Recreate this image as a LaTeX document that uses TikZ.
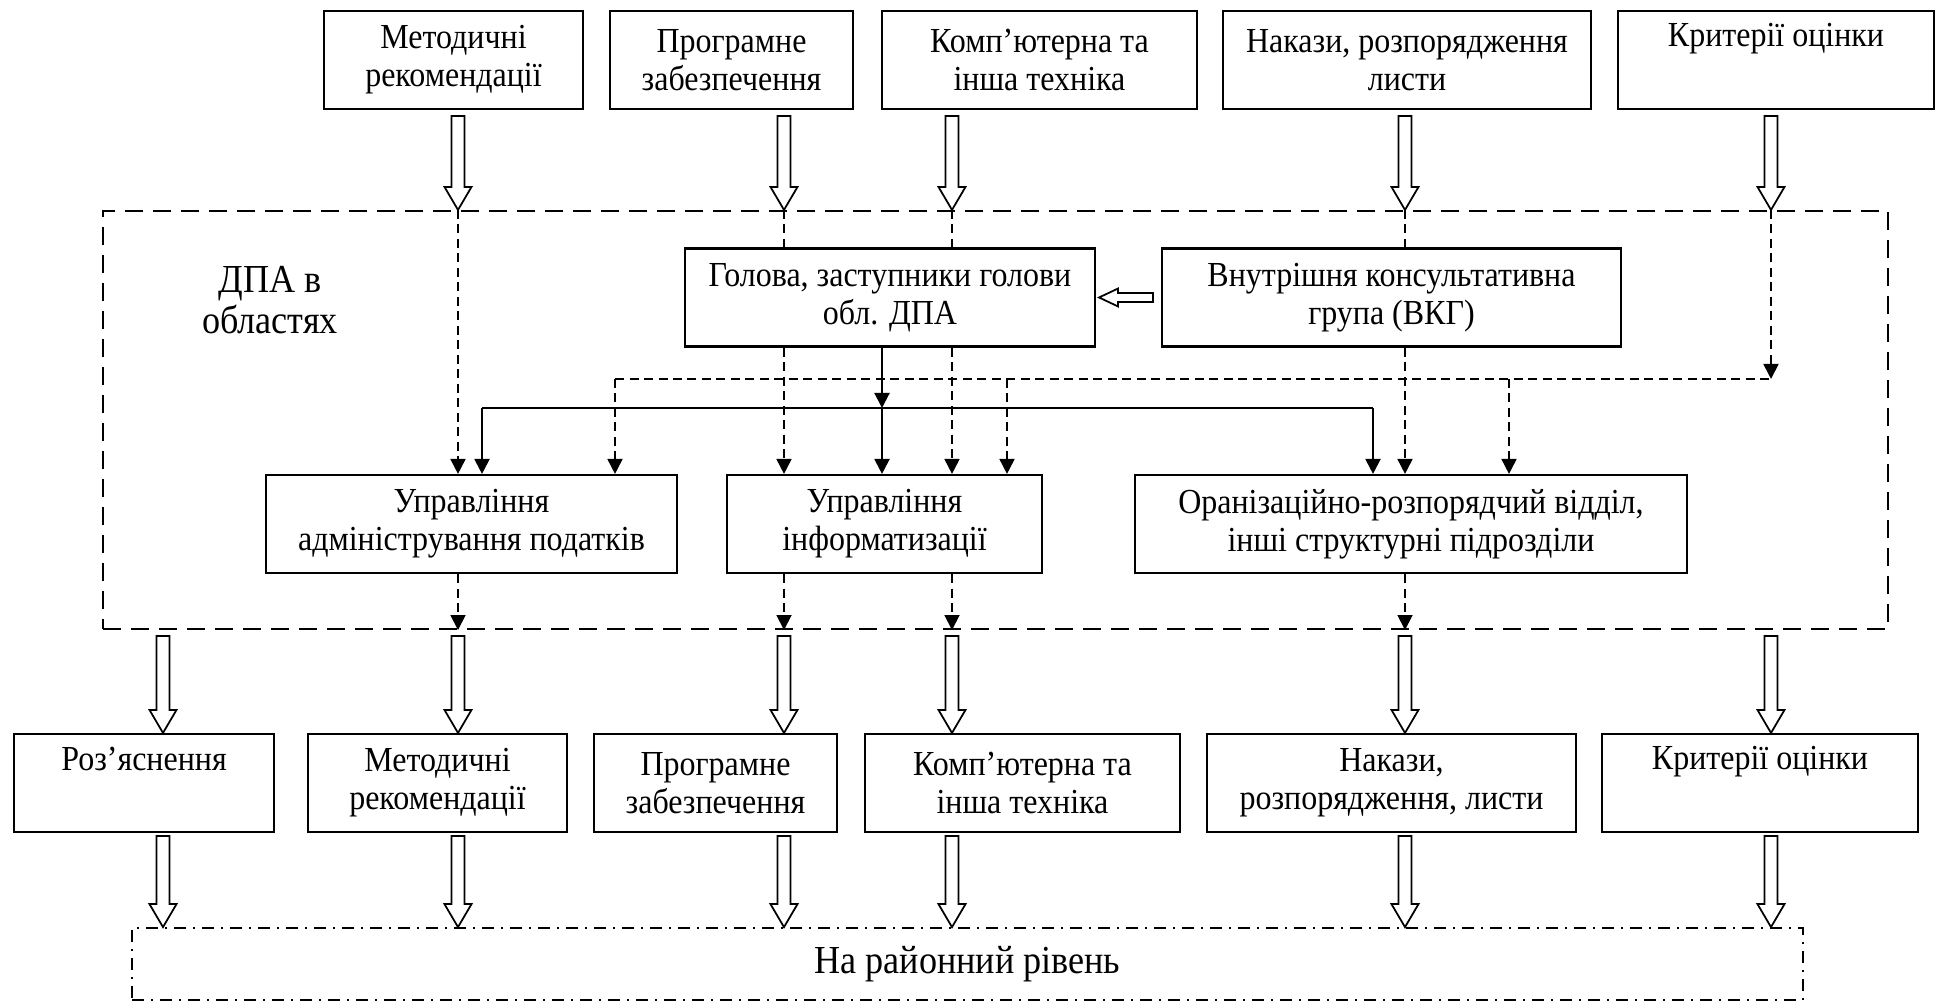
\documentclass[tikz,border=0pt]{standalone}
\usepackage{fontspec}
\setmainfont{Liberation Serif}[FakeStretch=0.91]
\usetikzlibrary{arrows.meta, calc}

\newcommand{\boxfont}{\fontsize{10}{10.8}\selectfont}
\newcommand{\bigfont}{\fontsize{11.3}{11.6}\selectfont}

% outlined block arrows (tail, tip)
\newcommand{\hollowdown}[2]{%
  \draw[line width=0.5pt, fill=white] let \p1=#1, \p2=#2 in
    (\x1-0.065cm,\y1) -- (\x1-0.065cm,\y2+0.23cm) -- (\x1-0.135cm,\y2+0.23cm)
    -- (\x1,\y2) -- (\x1+0.135cm,\y2+0.23cm) -- (\x1+0.065cm,\y2+0.23cm)
    -- (\x1+0.065cm,\y1) -- cycle;}
\newcommand{\hollowleft}[2]{%
  \draw[line width=0.5pt, fill=white] let \p1=#1, \p2=#2 in
    (\x1,\y1+0.045cm) -- (\x2+0.19cm,\y1+0.045cm) -- (\x2+0.19cm,\y1+0.09cm)
    -- (\x2,\y1) -- (\x2+0.19cm,\y1-0.09cm) -- (\x2+0.19cm,\y1-0.045cm)
    -- (\x1,\y1-0.045cm) -- cycle;}

\tikzset{
  box/.style={draw, line width=0.6pt, fill=white, align=center, inner sep=0pt,
    minimum height=0.98cm, font=\boxfont},
  frame/.style={draw, line width=0.6pt, dash pattern=on 0.18cm off 0.1cm},
  rayonbox/.style={draw, line width=0.5pt, dash pattern=on 0.12cm off 0.07cm on 0.02cm off 0.07cm,
    font=\bigfont},
  dline/.style={line width=0.5pt, dash pattern=on 0.09cm off 0.055cm},
  sline/.style={line width=0.6pt},
  tip/.style={-{Triangle[length=0.15cm, width=0.15cm]}},
}

\begin{document}
\begin{tikzpicture}
    \useasboundingbox (0,0) rectangle (19.39,10.02);

    % column positions
    \coordinate (cA) at (1.63,0);
    \coordinate (cB) at (4.58,0);
    \coordinate (cC) at (7.84,0);
    \coordinate (cD) at (9.52,0);
    \coordinate (cE) at (14.05,0);
    \coordinate (cF) at (17.71,0);

    % TOP ROW: INPUTS
    \node[box, minimum width=2.59cm] (topMet) at (4.535,9.42) {Методичні\\рекомендації};
    \node[box, minimum width=2.43cm] (topProg) at (7.315,9.42) {Програмне\\забезпечення};
    \node[box, minimum width=3.15cm] (topComp) at (10.395,9.42) {Комп’ютерна та\\інша техніка};
    \node[box, minimum width=3.68cm] (topNak) at (14.07,9.42) {Накази, розпорядження\\листи};
    \node[box, minimum width=3.16cm] (topKrit) at (17.76,9.42) {Критерії оцінки\\\strut};

    % DPA FRAME
    \node[frame, minimum width=17.85cm, minimum height=4.18cm] (dpa) at (9.955,5.82) {};
    \node[align=center, font=\bigfont] (dpaText) at (2.70,7.02) {ДПА в\\областях};

    \node[box, minimum width=4.10cm] (hol) at (8.90,7.045) {Голова, заступники голови\\обл. ДПА};
    \node[box, minimum width=4.59cm] (vkg) at (13.915,7.045) {Внутрішня консультативна\\група (ВКГ)};

    \node[box, minimum width=4.11cm] (adm) at (4.715,4.78) {Управління\\адміністрування податків};
    \node[box, minimum width=3.15cm] (inf) at (8.845,4.78) {Управління\\інформатизації};
    \node[box, minimum width=5.52cm] (org) at (14.11,4.78) {Оранізаційно-розпорядчий відділ,\\інші структурні підрозділи};

    % BOTTOM ROW: OUTPUTS
    \node[box, minimum width=2.60cm] (botRoz) at (1.44,2.19) {Роз’яснення\\\strut};
    \node[box, minimum width=2.59cm] (botMet) at (4.375,2.19) {Методичні\\рекомендації};
    \node[box, minimum width=2.43cm] (botProg) at (7.155,2.19) {Програмне\\забезпечення};
    \node[box, minimum width=3.15cm] (botComp) at (10.225,2.19) {Комп’ютерна та\\інша техніка};
    \node[box, minimum width=3.69cm] (botNak) at (13.915,2.19) {Накази,\\розпорядження, листи};
    \node[box, minimum width=3.16cm] (botKrit) at (17.60,2.19) {Критерії оцінки\\\strut};

    \node[rayonbox, minimum width=16.71cm, minimum height=0.72cm] (rayon) at (9.675,0.38) {На районний рівень};

    % hollow arrows into the frame
    \foreach \col/\src in {cB/topMet, cC/topProg, cD/topComp, cE/topNak, cF/topKrit} {
        \hollowdown{($(\col |- \src.south)+(0,-0.06)$)}{(\col |- dpa.north)}
    }

    % dashed lines from the inputs
    \draw[dline, tip] (cB |- dpa.north) -- (cB |- adm.north);
    \draw[dline] (cC |- dpa.north) -- (cC |- hol.north);
    \draw[dline] (cD |- dpa.north) -- (cD |- hol.north);
    \draw[dline, tip] (cC |- hol.south) -- (cC |- inf.north);
    \draw[dline, tip] (cD |- hol.south) -- (cD |- inf.north);
    \draw[dline] (cE |- dpa.north) -- (cE |- vkg.north);
    \draw[dline, tip] (cE |- vkg.south) -- (cE |- org.north);

    % dashed distribution line (criteria)
    \coordinate (dBus) at (6.15,6.23);
    \draw[dline, tip] (cF |- dpa.north) -- (cF |- dBus);
    \draw[dline] (dBus) -- (cF |- dBus);
    \draw[dline, tip] (dBus) -- (dBus |- adm.north);
    \draw[dline, tip] (10.07,6.23) -- (10.07,0 |- inf.north);
    \draw[dline, tip] (15.09,6.23) -- (15.09,0 |- org.north);

    % solid distribution line (management)
    \coordinate (sBus) at (8.82,5.94);
    \draw[sline, tip] (sBus |- hol.south) -- (sBus);
    \draw[sline] (4.82,5.94) -- (13.73,5.94);
    \draw[sline, tip] (4.82,5.94) -- (4.82,0 |- adm.north);
    \draw[sline, tip] (sBus) -- (sBus |- inf.north);
    \draw[sline, tip] (13.73,5.94) -- (13.73,0 |- org.north);

    % VKG advises the head
    \hollowleft{($(vkg.west)+(-0.08,0)$)}{($(hol.east)+(0.03,0)$)}

    % dashed lines out of the departments
    \draw[dline, tip] (cB |- adm.south) -- (cB |- dpa.south);
    \draw[dline, tip] (cC |- inf.south) -- (cC |- dpa.south);
    \draw[dline, tip] (cD |- inf.south) -- (cD |- dpa.south);
    \draw[dline, tip] (cE |- org.south) -- (cE |- dpa.south);

    % hollow arrows to the outputs and down to the district level
    \foreach \col/\dst in {cA/botRoz, cB/botMet, cC/botProg, cD/botComp, cE/botNak, cF/botKrit} {
        \hollowdown{($(\col |- dpa.south)+(0,-0.06)$)}{(\col |- \dst.north)}
        \hollowdown{($(\col |- \dst.south)+(0,-0.03)$)}{(\col |- rayon.north)}
    }
\end{tikzpicture}
\end{document}
